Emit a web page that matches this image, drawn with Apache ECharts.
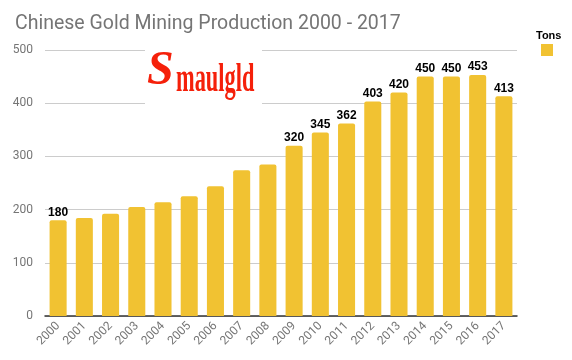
<!DOCTYPE html>
<html><head><meta charset="utf-8">
<script src="https://cdn.jsdelivr.net/npm/echarts@6/dist/echarts.min.js"></script>
<style>html,body{margin:0;padding:0;background:#fff}#c{width:572px;height:360px}</style>
</head><body><div id="c"></div>
<script>
var years = ['2000','2001','2002','2003','2004','2005','2006','2007','2008','2009','2010','2011','2012','2013','2014','2015','2016','2017'];
var tons = [180,184,192,205,214,225,244,274,285,320,345,362,403,420,450,450,453,413];
var labeledYears = ['2000','2009','2010','2011','2012','2013','2014','2015','2016','2017'];
var yTicks = [0,100,200,300,400,500];

var chart = echarts.init(document.getElementById('c'));
chart.setOption({
  animation:false,
  title:{text:'Chinese Gold Mining Production 2000 - 2017',left:10,top:9,textStyle:{fontFamily:'Roboto',fontSize:19.5,fontWeight:'normal',color:'#757575'}},
  grid:{left:45,right:55,top:50,bottom:44},
  xAxis:{type:'category',data:years,
    axisLine:{lineStyle:{color:'#333',width:1.5}},axisTick:{show:false},
    axisLabel:{rotate:45,fontFamily:'Roboto',fontSize:12,color:'#757575',margin:8,interval:0}},
  yAxis:{type:'value',min:yTicks[0],max:yTicks[yTicks.length-1],interval:100,
    axisLine:{show:false},axisTick:{show:false},
    splitLine:{lineStyle:{color:'#cccccc'}},
    axisLabel:{fontFamily:'Roboto',fontSize:12,color:'#757575',margin:12}},
  series:[{type:'bar',name:'Tons',barCategoryGap:'35%',
    data:tons.map(function(v,i){return {value:v,label:{show:labeledYears.indexOf(years[i])>=0}};}),
    itemStyle:{color:'#f1c232',borderRadius:[2,2,0,0]},
    label:{position:'top',distance:2,fontFamily:'Arial, Liberation Sans',fontWeight:'bold',fontSize:12,color:'#000'}}],
  graphic:[
    {type:'rect',shape:{x:145,y:45,width:117,height:62},style:{fill:'#fff'},z:100},
    {type:'text',x:147,y:96,style:{text:'S',font:'italic bold 48px "Liberation Serif"',fill:'#f5200a',textVerticalAlign:'bottom'},z:101},
    {type:'text',x:176,y:101,scaleX:0.56,style:{text:'maulgld',font:'bold 40px "Liberation Serif"',fill:'#f5200a',textVerticalAlign:'bottom'},z:101},
    {type:'text',x:536,y:30,style:{text:'Tons',font:'bold 11px "Liberation Sans"',fill:'#000'}},
    {type:'rect',shape:{x:541,y:44,width:12,height:12},style:{fill:'#f1c232'}}
  ]
});
</script></body></html>
